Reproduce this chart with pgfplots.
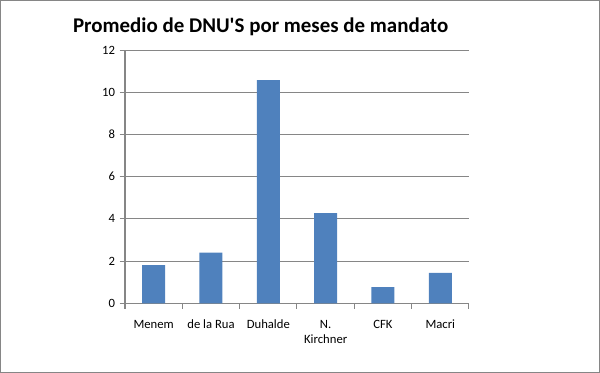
\documentclass[border=0pt]{standalone}
\usepackage{fontspec}
\setmainfont{Carlito}
\usepackage{pgfplots}
\pgfplotsset{compat=1.18}
\definecolor{barblue}{HTML}{4F81BD}
\definecolor{gridgray}{HTML}{868686}
\begin{document}
\begin{tikzpicture}
\draw[draw=gridgray,line width=0.75pt] (0.375pt,0.375pt) rectangle (449.625pt,279.375pt);
\node[font=\fontsize{15.7}{18}\selectfont\bfseries] at (195.5pt,259.5pt) {Promedio de DNU\textquotesingle S por meses de mandato};
\begin{axis}[
  at={(93.75pt,52.3pt)}, anchor=south west,
  scale only axis, width=258pt, height=189.75pt,
  xmin=-0.5, xmax=5.5, ymin=0, ymax=12,
  ytick={0,2,...,12},
  xtick={0,...,5},
  xticklabels={Menem,de la Rua,Duhalde,N.\\Kirchner,CFK,Macri},
  xticklabel style={align=center, font=\fontsize{9.5}{11.5}\selectfont, yshift=-5pt},
  yticklabel style={font=\fontsize{9.5}{11.5}\selectfont},
  /pgf/number format/assume math mode=true,
  minor xtick={-0.5,0.5,...,5.5},
  major x tick style={draw=none},
  minor x tick style={draw=gridgray, line width=0.75pt},
  y tick style={draw=gridgray, line width=0.75pt},
  major tick length=4pt, minor tick length=4pt,
  tick align=outside,
  ymajorgrids, grid style={draw=gridgray, line width=0.75pt},
  axis lines*=left,
  axis line style={draw=gridgray, line width=0.75pt},
  enlargelimits=false,
  ybar, bar width=17.25pt,
]
\addplot[fill=barblue, draw=none] coordinates {(0,1.81) (1,2.40) (2,10.58) (3,4.28) (4,0.77) (5,1.44)};
\end{axis}
\end{tikzpicture}
\end{document}
